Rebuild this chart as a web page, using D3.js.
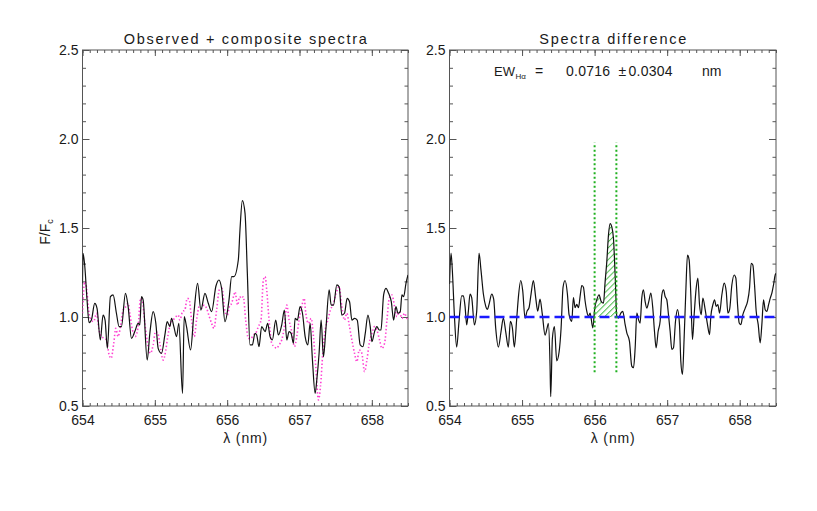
<!DOCTYPE html>
<html><head><meta charset="utf-8">
<script src="https://cdn.jsdelivr.net/npm/d3@7"></script>
<style>body{margin:0;background:#fff}svg{display:block}</style>
</head><body>
<svg id="c" width="817" height="511"></svg>
<script>
// ---- data ----
const observed = [[654.0,1.189],[654.007,1.358],[654.03,1.292],[654.063,1.095],[654.09,0.968],[654.123,0.983],[654.169,1.077],[654.201,1.049],[654.247,0.871],[654.284,1.011],[654.312,0.983],[654.344,0.824],[654.386,1.114],[654.423,1.124],[654.469,1.021],[654.506,0.946],[654.538,0.946],[654.594,1.133],[654.631,1.058],[654.677,0.880],[654.723,0.918],[654.769,0.964],[654.792,0.955],[654.815,1.114],[654.838,1.096],[654.894,0.758],[654.931,0.908],[654.977,1.030],[655.014,0.964],[655.046,0.824],[655.092,0.796],[655.139,0.899],[655.171,0.974],[655.208,0.946],[655.231,0.992],[655.263,0.946],[655.30,0.890],[655.332,0.964],[655.383,0.571],[655.406,1.002],[655.438,0.946],[655.494,0.815],[655.54,1.021],[655.591,1.189],[655.637,1.039],[655.693,1.133],[655.739,1.077],[655.785,1.030],[655.845,1.174],[655.886,1.208],[655.923,1.161],[655.97,0.974],[656.025,1.095],[656.062,1.227],[656.094,1.227],[656.154,1.320],[656.177,1.489],[656.21,1.654],[656.247,1.582],[656.279,1.245],[656.316,0.843],[656.348,0.843],[656.385,0.908],[656.408,0.899],[656.44,0.833],[656.477,0.946],[656.524,0.918],[656.56,0.964],[656.593,0.890],[656.625,0.871],[656.671,0.983],[656.708,0.899],[656.754,0.955],[656.791,1.039],[656.824,0.871],[656.856,0.918],[656.884,0.908],[656.916,0.852],[656.939,0.992],[656.971,0.983],[657.008,1.058],[657.041,1.021],[657.078,0.890],[657.115,0.843],[657.147,0.964],[657.179,0.758],[657.216,0.571],[657.239,0.646],[657.271,0.796],[657.299,0.983],[657.331,0.777],[657.364,0.927],[657.41,1.152],[657.438,1.067],[657.47,1.067],[657.516,1.180],[657.548,1.170],[657.585,1.011],[657.622,1.021],[657.659,1.105],[657.692,1.086],[657.724,0.983],[657.761,0.992],[657.798,0.983],[657.839,0.843],[657.876,0.833],[657.909,0.908],[657.946,1.011],[657.978,0.946],[658.001,0.861],[658.038,0.918],[658.07,0.946],[658.102,0.927],[658.126,0.927],[658.163,1.124],[658.195,1.161],[658.232,1.133],[658.269,1.086],[658.301,0.983],[658.333,1.058],[658.361,1.021],[658.393,1.030],[658.416,1.124],[658.44,1.114],[658.472,1.189],[658.5,1.236]];

const composite = [[654.0,1.021],[654.03,1.199],[654.054,1.170],[654.09,1.021],[654.123,0.983],[654.155,0.974],[654.192,1.021],[654.229,0.927],[654.261,0.890],[654.307,0.880],[654.331,0.871],[654.368,0.787],[654.395,0.768],[654.432,0.852],[654.46,0.936],[654.492,0.890],[654.525,0.946],[654.562,1.039],[654.598,1.058],[654.631,1.077],[654.654,1.021],[654.691,0.927],[654.728,0.890],[654.769,0.946],[654.802,1.105],[654.829,1.086],[654.862,0.964],[654.908,0.833],[654.94,0.796],[654.977,0.843],[655.009,0.918],[655.042,0.908],[655.069,0.852],[655.115,0.758],[655.148,0.805],[655.175,0.880],[655.217,0.964],[655.254,0.983],[655.291,1.002],[655.323,1.011],[655.346,0.983],[655.383,1.030],[655.415,1.039],[655.448,1.105],[655.476,1.096],[655.508,0.983],[655.545,0.890],[655.577,0.983],[655.614,1.058],[655.646,1.049],[655.683,1.067],[655.716,1.049],[655.753,1.002],[655.785,0.964],[655.817,0.936],[655.854,1.039],[655.891,1.152],[655.928,1.161],[655.97,1.030],[656.002,1.011],[656.03,1.058],[656.062,1.077],[656.094,1.124],[656.108,1.142],[656.145,1.067],[656.173,1.114],[656.20,1.105],[656.223,1.114],[656.256,0.983],[656.293,0.880],[656.33,0.880],[656.362,0.899],[656.394,0.908],[656.431,0.946],[656.468,0.983],[656.50,1.208],[656.524,1.227],[656.547,1.152],[656.579,0.983],[656.616,0.852],[656.653,0.833],[656.685,0.824],[656.717,0.843],[656.754,0.871],[656.791,0.946],[656.824,1.067],[656.856,0.983],[656.893,0.918],[656.93,0.833],[656.962,0.890],[656.994,0.983],[657.031,1.058],[657.064,1.105],[657.087,1.021],[657.124,0.964],[657.161,0.992],[657.193,0.890],[657.225,0.721],[657.262,0.534],[657.29,0.609],[657.322,0.796],[657.355,0.927],[657.392,0.983],[657.428,1.039],[657.47,1.077],[657.507,1.133],[657.548,1.170],[657.585,1.058],[657.622,0.983],[657.655,1.021],[657.687,0.955],[657.724,0.871],[657.761,0.796],[657.793,0.749],[657.826,0.815],[657.862,0.796],[657.899,0.693],[657.932,0.758],[657.964,0.852],[658.001,0.908],[658.038,0.946],[658.07,0.927],[658.107,0.871],[658.139,0.824],[658.176,0.852],[658.209,0.983],[658.241,1.105],[658.278,1.124],[658.315,1.058],[658.347,1.002],[658.38,1.030],[658.416,0.992],[658.453,1.021],[658.486,0.992],[658.5,1.0]];

const difference = [[654.0,1.186],[654.021,1.359],[654.039,1.263],[654.067,1.013],[654.099,0.831],[654.131,0.975],[654.168,1.119],[654.191,1.119],[654.214,1.061],[654.237,0.956],[654.26,1.033],[654.283,1.129],[654.306,1.109],[654.343,0.956],[654.375,1.033],[654.407,1.359],[654.434,1.263],[654.467,1.129],[654.499,1.061],[654.522,1.042],[654.545,1.071],[654.582,1.129],[654.609,1.100],[654.637,0.937],[654.674,0.831],[654.71,0.917],[654.742,0.994],[654.775,0.917],[654.811,0.831],[654.839,0.975],[654.867,0.937],[654.894,0.831],[654.927,0.994],[654.949,1.109],[654.982,1.205],[655.009,1.148],[655.041,0.994],[655.069,1.033],[655.096,1.052],[655.124,1.129],[655.156,1.205],[655.188,1.109],[655.216,1.033],[655.248,1.100],[655.28,1.013],[655.317,0.898],[655.345,0.937],[655.363,0.965],[655.386,0.725],[655.395,0.553],[655.418,0.879],[655.446,0.946],[655.478,0.754],[655.51,0.802],[655.538,0.937],[655.565,1.167],[655.593,1.205],[655.625,1.129],[655.648,1.013],[655.685,0.975],[655.708,1.109],[655.731,1.052],[655.754,1.071],[655.777,1.052],[655.804,1.129],[655.823,1.177],[655.846,1.167],[655.869,1.090],[655.892,1.033],[655.915,1.004],[655.938,1.022],[655.975,0.939],[656.002,1.050],[656.03,1.097],[656.062,1.125],[656.09,1.088],[656.122,1.078],[656.145,1.199],[656.168,1.311],[656.191,1.460],[656.214,1.525],[656.237,1.506],[656.26,1.441],[656.283,1.236],[656.306,1.004],[656.329,0.994],[656.361,1.022],[656.388,1.032],[656.421,0.957],[656.444,0.911],[656.48,0.864],[656.512,0.724],[656.536,0.715],[656.559,0.827],[656.582,1.022],[656.605,0.985],[656.627,0.966],[656.65,1.106],[656.673,1.153],[656.696,1.088],[656.72,1.050],[656.747,1.088],[656.775,1.134],[656.802,1.050],[656.825,0.920],[656.848,0.827],[656.876,0.920],[656.903,0.976],[656.927,1.125],[656.95,1.153],[656.972,1.115],[656.995,1.097],[657.018,1.013],[657.041,0.920],[657.064,0.818],[657.087,0.827],[657.115,0.976],[657.142,1.041],[657.17,0.957],[657.188,0.752],[657.211,0.678],[657.234,0.883],[657.257,1.143],[657.28,1.348],[657.303,1.320],[657.326,1.125],[657.349,0.873],[657.372,1.013],[657.4,1.162],[657.423,1.218],[657.446,1.069],[657.469,1.013],[657.492,1.106],[657.524,1.041],[657.556,0.957],[657.584,0.901],[657.602,1.004],[657.63,1.069],[657.653,1.097],[657.676,1.060],[657.699,1.069],[657.722,1.022],[657.754,1.125],[657.786,1.190],[657.814,1.143],[657.837,1.022],[657.86,1.041],[657.892,1.181],[657.924,1.236],[657.947,1.218],[657.97,1.069],[657.993,0.966],[658.016,0.957],[658.043,1.013],[658.076,1.050],[658.108,1.088],[658.135,1.162],[658.158,1.302],[658.181,1.292],[658.204,1.181],[658.227,1.032],[658.255,0.957],[658.282,0.855],[658.305,0.957],[658.328,1.097],[658.351,1.041],[658.374,1.032],[658.398,1.069],[658.421,1.106],[658.443,1.134],[658.466,1.181],[658.489,1.236],[658.5,1.245]];

const xMajorTicks = [654, 655, 656, 657, 658];
const yMajorTicks = [0.5, 1.0, 1.5, 2.0, 2.5];
const continuumLevel = [1.0];
const ewWindow = [656.0, 656.3];
const ewMarkerRange = [0.69, 1.98];
const panelTitles = ["Observed + composite spectra", "Spectra difference"];
const ewLabel = {name: "EW", sub: "Hα", value: "0.0716", err: "0.0304", unit: "nm"};

// ---- layout ----
const svg = d3.select("#c");
svg.append("rect").attr("width",817).attr("height",511).attr("fill","#fff");
const FONT = "'Liberation Sans', Arial, sans-serif";
const TXT = "#1a1a1a", AX = "#555";
const yTop = 50, yBot = 406;
const panels = [{x0:82.5, x1:408, id:"L"}, {x0:449.5, x1:776, id:"R"}];
const y = d3.scaleLinear([0.5, 2.5], [yBot, yTop]);

const defs = svg.append("defs");
const pat = defs.append("pattern").attr("id","hatch").attr("patternUnits","userSpaceOnUse")
  .attr("width",4.2).attr("height",4.2).attr("patternTransform","rotate(45)");
pat.append("line").attr("x1",0.5).attr("y1",0).attr("x2",0.5).attr("y2",4.2)
  .attr("stroke","#4cbc4c").attr("stroke-width",1);

panels.forEach((p, i) => {
  const x = d3.scaleLinear([654, 658.5], [p.x0, p.x1]);
  p.x = x;
  defs.append("clipPath").attr("id","clip"+p.id).append("rect")
    .attr("x",p.x0).attr("y",yTop).attr("width",p.x1-p.x0).attr("height",yBot-yTop);
  const g = svg.append("g");
  const minorX = x.ticks(45), minorY = y.ticks(20);
  const mk = (axis, tf) => {
    const a = g.append("g").attr("transform", tf).call(axis);
    a.select(".domain").remove();
    a.selectAll("line").attr("stroke", AX);
    a.selectAll("text").attr("font-family", FONT).attr("font-size", 14).attr("fill", TXT);
    return a;
  };
  mk(d3.axisBottom(x).tickValues(minorX).tickSize(-3).tickFormat(""), `translate(0,${yBot})`);
  mk(d3.axisTop(x).tickValues(minorX).tickSize(-3).tickFormat(""), `translate(0,${yTop})`);
  mk(d3.axisLeft(y).tickValues(minorY).tickSize(-3.5).tickFormat(""), `translate(${p.x0},0)`);
  mk(d3.axisRight(y).tickValues(minorY).tickSize(-3.5).tickFormat(""), `translate(${p.x1},0)`);
  mk(d3.axisBottom(x).tickValues(xMajorTicks).tickSize(-6).tickPadding(9).tickFormat(d3.format("d")), `translate(0,${yBot})`);
  mk(d3.axisTop(x).tickValues(xMajorTicks).tickSize(-6).tickFormat(""), `translate(0,${yTop})`);
  mk(d3.axisLeft(y).tickValues(yMajorTicks).tickSize(-7).tickPadding(4).tickFormat(d3.format(".1f")), `translate(${p.x0},0)`);
  mk(d3.axisRight(y).tickValues(yMajorTicks).tickSize(-7).tickFormat(""), `translate(${p.x1},0)`);
  g.append("rect").attr("x",p.x0).attr("y",yTop).attr("width",p.x1-p.x0).attr("height",yBot-yTop)
    .attr("fill","none").attr("stroke",AX).attr("stroke-width",1);
  const cx = (p.x0+p.x1)/2;
  svg.append("text").attr("x",cx).attr("y",44).attr("text-anchor","middle")
    .attr("font-family",FONT).attr("font-size",14.5).attr("fill",TXT)
    .attr("textLength", i===0 ? 243 : 147).attr("lengthAdjust","spacing").text(panelTitles[i]);
  svg.append("text").attr("x",cx).attr("y",443).attr("text-anchor","middle")
    .attr("font-family",FONT).attr("font-size",14).attr("fill",TXT)
    .attr("textLength",44).attr("lengthAdjust","spacing").text("λ (nm)");
});

// y label
const yl = svg.append("text").attr("transform","translate(50,232) rotate(-90)").attr("text-anchor","middle")
  .attr("font-family",FONT).attr("font-size",14).attr("fill",TXT);
yl.append("tspan").text("F/F");
yl.append("tspan").attr("font-size",9).attr("dy",3).text("c");

// ---- left panel: observed + composite ----
const L = panels[0], R = panels[1];
const curve = d3.curveMonotoneX;
const lineL = d3.line().curve(curve).x(d=>L.x(d[0])).y(d=>y(d[1]));
const gl = svg.append("g").attr("clip-path","url(#clipL)");
gl.append("path").datum(composite).attr("d",lineL).attr("fill","none")
  .attr("stroke","#ff3fd2").attr("stroke-width",1.6).attr("stroke-dasharray","1.4,2.2");
gl.append("path").datum(observed).attr("d",lineL).attr("fill","none")
  .attr("stroke","#111").attr("stroke-width",1.2).attr("stroke-linejoin","round");

// ---- right panel: difference ----
const gr = svg.append("g").attr("clip-path","url(#clipR)");
defs.append("clipPath").attr("id","clipEW").append("rect")
  .attr("x",R.x(ewWindow[0])).attr("y",yTop)
  .attr("width",R.x(ewWindow[1])-R.x(ewWindow[0])).attr("height",yBot-yTop);
const area = d3.area().curve(curve).x(d=>R.x(d[0])).y0(y(continuumLevel[0])).y1(d=>y(Math.max(d[1],continuumLevel[0])));
gr.append("g").attr("clip-path","url(#clipEW)").append("path").datum(difference)
  .attr("d",area).attr("fill","url(#hatch)").attr("stroke","none");
gr.append("path").datum(difference).attr("d",d3.line().curve(curve).x(d=>R.x(d[0])).y(d=>y(d[1])))
  .attr("fill","none").attr("stroke","#111").attr("stroke-width",1.2).attr("stroke-linejoin","round");
gr.selectAll(".cont").data(continuumLevel).enter().append("line")
  .attr("x1",R.x0).attr("x2",R.x1).attr("y1",d=>y(d)).attr("y2",d=>y(d))
  .attr("stroke","#1a1aff").attr("stroke-width",2.6).attr("stroke-dasharray","10,5");
gr.selectAll(".ew").data(ewWindow).enter().append("line")
  .attr("x1",d=>R.x(d)).attr("x2",d=>R.x(d))
  .attr("y1",y(ewMarkerRange[0])).attr("y2",y(ewMarkerRange[1]))
  .attr("stroke","#1fb01f").attr("stroke-width",2).attr("stroke-dasharray","2,2.5");

// EW annotation
const ew = svg.append("g").attr("font-family",FONT).attr("fill",TXT);
ew.append("text").attr("x",494).attr("y",76).attr("font-size",13).text(ewLabel.name);
ew.append("text").attr("x",515.5).attr("y",79).attr("font-size",8).text(ewLabel.sub);
ew.append("text").attr("x",535).attr("y",76).attr("font-size",14).attr("textLength",12).attr("lengthAdjust","spacing").text("=");
ew.append("text").attr("x",566).attr("y",76).attr("font-size",14).attr("textLength",44).attr("lengthAdjust","spacing").text(ewLabel.value);
ew.append("text").attr("x",618.5).attr("y",76).attr("font-size",14).text("±");
ew.append("text").attr("x",628.5).attr("y",76).attr("font-size",14).attr("textLength",44).attr("lengthAdjust","spacing").text(ewLabel.err);
ew.append("text").attr("x",702).attr("y",76).attr("font-size",14).text(ewLabel.unit);
</script>
</body></html>
